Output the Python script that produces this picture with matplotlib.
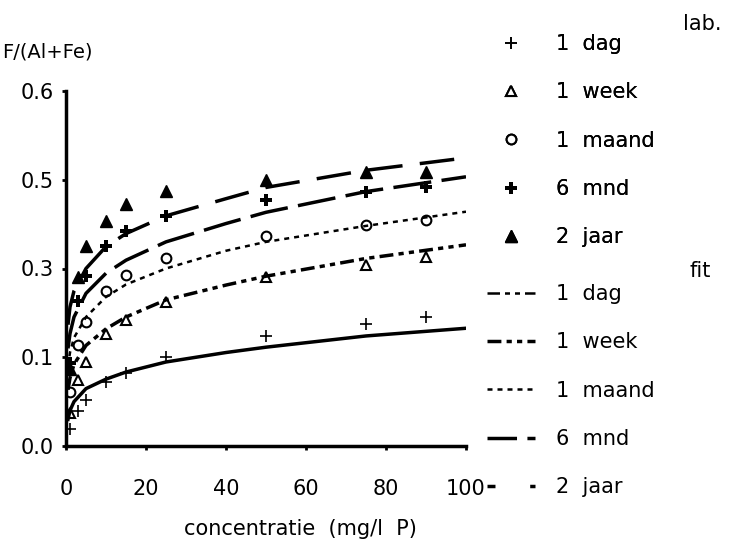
import numpy as np
import matplotlib
matplotlib.use('Agg')
import matplotlib.pyplot as plt
from matplotlib.lines import Line2D
from matplotlib.ticker import FormatStrFormatter

plt.rcParams['font.family'] = ['DejaVu Sans']

# measured points (lab.)
x_lab = [1, 3, 5, 10, 15, 25, 50, 75, 90]
lab_dag = [0.028, 0.060, 0.078, 0.108, 0.123, 0.150, 0.186, 0.207, 0.218]
lab_week = [0.055, 0.112, 0.142, 0.189, 0.213, 0.244, 0.286, 0.306, 0.319]
lab_maand = [0.092, 0.171, 0.210, 0.262, 0.289, 0.317, 0.355, 0.373, 0.382]
lab_mnd = [0.140, 0.245, 0.288, 0.338, 0.363, 0.389, 0.416, 0.430, 0.437]
lab_jaar = [0.130, 0.285, 0.338, 0.381, 0.409, 0.431, 0.449, 0.463, 0.463]

# fitted curves
x_fit = [0.5, 1, 2, 5, 10, 15, 25, 40, 50, 75, 100]
fit_dag = [0.045, 0.060, 0.075, 0.097, 0.113, 0.125, 0.142, 0.158, 0.167, 0.186, 0.199]
fit_week = [0.095, 0.115, 0.138, 0.170, 0.198, 0.218, 0.247, 0.272, 0.287, 0.317, 0.340]
fit_maand = [0.135, 0.158, 0.183, 0.218, 0.252, 0.273, 0.300, 0.330, 0.345, 0.372, 0.396]
fit_mnd = [0.165, 0.190, 0.218, 0.258, 0.292, 0.314, 0.345, 0.376, 0.395, 0.430, 0.455]
fit_jaar = [0.205, 0.235, 0.262, 0.300, 0.337, 0.359, 0.389, 0.418, 0.437, 0.466, 0.487]

names = ['1  dag', '1  week', '1  maand', '6  mnd', '2  jaar']
x_ticks = [0, 20, 40, 60, 80, 100]
y_ticks = [0, 0.15, 0.3, 0.45, 0.6]

fig = plt.figure(figsize=(7.29, 5.5), dpi=100)
ax = fig.add_axes([66/729, 1-446/550, 400/729, 355/550])

k = 'black'
h1 = []
h1.append(ax.plot(x_lab, lab_dag, ls='none', marker='+', ms=9, mew=1.2, color=k)[0])
h1.append(ax.plot(x_lab, lab_week, ls='none', marker='^', ms=7, mew=1.5, mfc='white', color=k)[0])
h1.append(ax.plot(x_lab, lab_maand, ls='none', marker='o', ms=7, mew=1.5, mfc='white', color=k)[0])
h1.append(ax.plot(x_lab, lab_mnd, ls='none', marker='P', ms=8, mew=0, color=k)[0])
h1.append(ax.plot(x_lab, lab_jaar, ls='none', marker='^', ms=9, color=k)[0])

# fit lines
ax.plot(x_fit, fit_dag, color=k, lw=2.5)
l_week = ax.plot(x_fit, fit_week, color=k, lw=2.5, dashes=(4, 1.5, 1.5, 1.5, 1.5, 1.5))[0]
l_maand = ax.plot(x_fit, fit_maand, color=k, lw=1.8, dashes=(2, 2))[0]
ax.plot(x_fit, fit_mnd, color=k, lw=2.5, dashes=(11, 3))
ax.plot(x_fit, fit_jaar, color=k, lw=2.5, dashes=(10, 5))

# legend keys as they look in the original (shorter dash patterns)
l_dag = Line2D([], [], color=k, lw=1.8, dashes=(5, 2, 2, 2, 2, 2))
l_mnd = Line2D([], [], color=k, lw=2.5, dashes=(8.5, 3))
l_jaar = Line2D([], [], color=k, lw=2.5, dashes=(2.3, 10, 2, 10))
h2 = [l_dag, l_week, l_maand, l_mnd, l_jaar]

ax.set_xlim(0, 100)
ax.set_ylim(0, 0.6)
ax.set_xticks(x_ticks)
ax.set_yticks(y_ticks)
ax.yaxis.set_major_formatter(FormatStrFormatter('%.1f'))
ax.spines['top'].set_visible(False)
ax.spines['right'].set_visible(False)
ax.spines['left'].set_linewidth(2.5)
ax.spines['bottom'].set_linewidth(2.5)
ax.tick_params(direction='out', length=3, width=2, labelsize=15)
ax.tick_params(axis='x', pad=21)
ax.tick_params(axis='y', pad=6)

fig.text(2/729, 1-52/550, 'F/(Al+Fe)', fontsize=14, va='center')
ax.set_xlabel('concentratie  (mg/l  P)', fontsize=15, va='center')
ax.xaxis.set_label_coords((300-66)/400, -83/355)

kw = dict(frameon=False, fontsize=15, handlelength=2.3, handletextpad=1.0,
          labelspacing=1.36, borderpad=0, borderaxespad=0)
leg1 = fig.legend(h1, names, loc='upper left', bbox_to_anchor=(487/729, 1-34/550), **kw)
fig.legend(h2, names, loc='upper left', bbox_to_anchor=(487/729, 1-284/550), **kw)
fig.add_artist(leg1)
fig.text(683/729, 1-24/550, 'lab.', fontsize=15, va='center')
fig.text(690/729, 1-271/550, 'fit', fontsize=15, va='center')

fig.savefig('out.png', dpi=100)
